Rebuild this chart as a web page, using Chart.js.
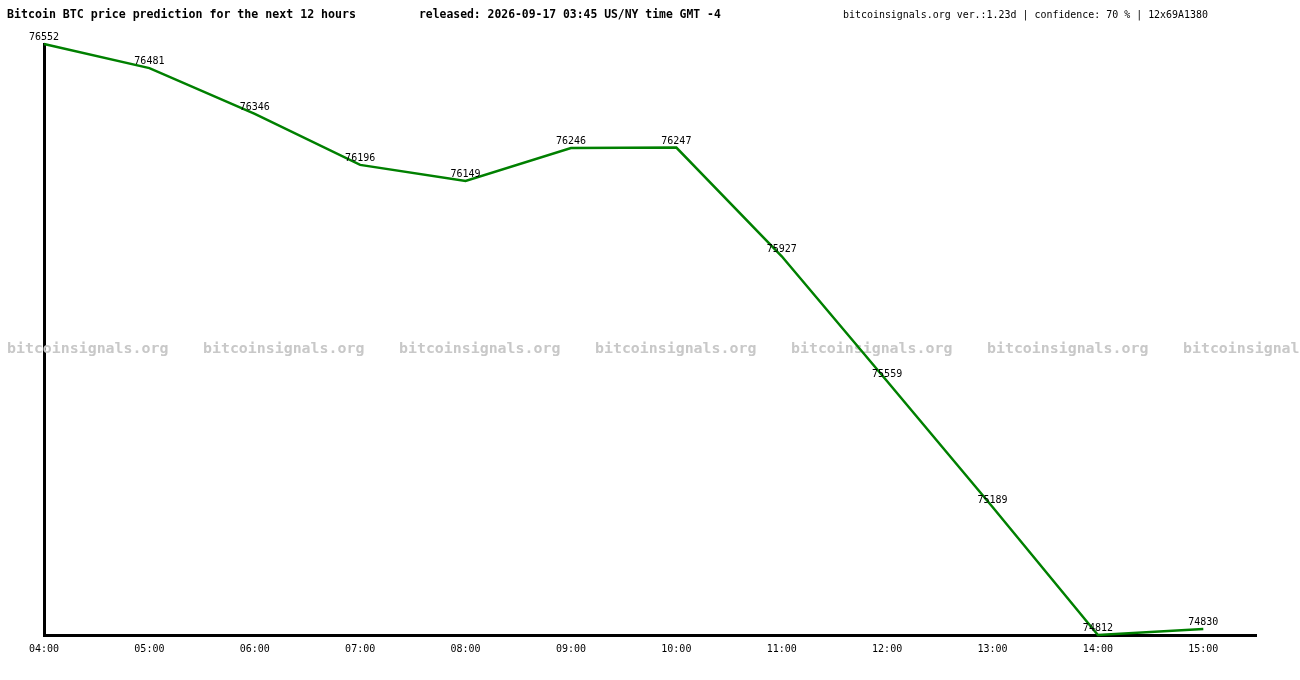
<!DOCTYPE html>
<html>
<head>
<meta charset="utf-8">
<script src="https://cdn.jsdelivr.net/npm/chart.js@4.4.1/dist/chart.umd.min.js"></script>
<style>
  html, body { margin: 0; padding: 0; background: #fff; }
  #wrap { position: relative; width: 1300px; height: 680px; }
</style>
</head>
<body>
<div id="wrap"><canvas id="canvas" width="1300" height="680"></canvas></div>
<script>
//--Data----------------------------
var timeLabels = ['04:00', '05:00', '06:00', '07:00', '08:00', '09:00', '10:00', '11:00', '12:00', '13:00', '14:00', '15:00'];
var priceValues = [76552, 76481, 76346, 76196, 76149, 76246, 76247, 75927, 75559, 75189, 74812, 74830];

var titleText = 'Bitcoin BTC price prediction for the next 12 hours';
var releasedText = 'released: 2026-09-17 03:45 US/NY time GMT -4';
var infoText = 'bitcoinsignals.org ver.:1.23d | confidence: 70 % | 12x69A1380';
var watermarkText = 'bitcoinsignals.org';

var MONO = '"DejaVu Sans Mono", "Liberation Mono", monospace';

var points = timeLabels.map(function(t, i) {
    return { x: i, y: priceValues[i] };
});

//--Header and watermark----------------------------
var backgroundText = {
    id: 'backgroundText',
    beforeDatasetsDraw: function(chart) {
        var ctx = chart.ctx;
        ctx.save();
        ctx.textBaseline = 'alphabetic';
        ctx.textAlign = 'left';
        ctx.fillStyle = '#000';
        ctx.font = 'bold 11.6px ' + MONO;
        ctx.fillText(titleText, 7, 18);
        ctx.font = 'bold 11.4px ' + MONO;
        ctx.fillText(releasedText, 419, 18);
        ctx.font = '9.95px ' + MONO;
        ctx.fillText(infoText, 843, 18);

        ctx.fillStyle = '#c8c8c8';
        ctx.font = 'bold 14.9px ' + MONO;
        for (var x = 7; x < 1300; x += 196) {
            ctx.fillText(watermarkText, x, 353);
        }
        ctx.restore();
    }
};

//--Value labels on points----------------------------
var pointLabels = {
    id: 'pointLabels',
    afterDatasetsDraw: function(chart) {
        var ctx = chart.ctx;
        var meta = chart.getDatasetMeta(0);
        ctx.save();
        ctx.font = '10px ' + MONO;
        ctx.fillStyle = '#000';
        ctx.textAlign = 'center';
        ctx.textBaseline = 'alphabetic';
        meta.data.forEach(function(pt, i) {
            ctx.fillText(String(priceValues[i]), pt.x, pt.y - 4);
        });
        ctx.restore();
    }
};

function PlotPrediction(ctx) {
    return new Chart(ctx, {
        type: 'line',
        data: {
            datasets: [{
                data: points,
                borderColor: '#008000',
                borderWidth: 2.5,
                pointRadius: 0,
                fill: false,
                tension: 0,
                clip: false
            }]
        },
        options: {
            responsive: false,
            animation: false,
            devicePixelRatio: 1,
            layout: { padding: { left: 44, top: 44, right: 44, bottom: 17 } },
            plugins: {
                legend: { display: false },
                tooltip: { enabled: false }
            },
            scales: {
                x: {
                    type: 'linear',
                    min: 0,
                    max: 11.5,
                    grid: { display: false, drawTicks: false },
                    border: { display: true, color: '#000', width: 3 },
                    ticks: {
                        stepSize: 1,
                        padding: 8,
                        color: '#000',
                        maxRotation: 0,
                        autoSkip: false,
                        font: { family: MONO, size: 10 },
                        callback: function(v) {
                            return Number.isInteger(v) && timeLabels[v] ? timeLabels[v] : '';
                        }
                    }
                },
                y: {
                    min: 74812,
                    max: 76552,
                    grid: { display: false, drawTicks: false },
                    border: { display: true, color: '#000', width: 3 },
                    ticks: { display: false },
                    afterFit: function(scale) { scale.width = 0; }
                }
            }
        },
        plugins: [backgroundText, pointLabels]
    });
}

var ctx = document.getElementById('canvas').getContext('2d');
window.myLine = PlotPrediction(ctx);
</script>
</body>
</html>
